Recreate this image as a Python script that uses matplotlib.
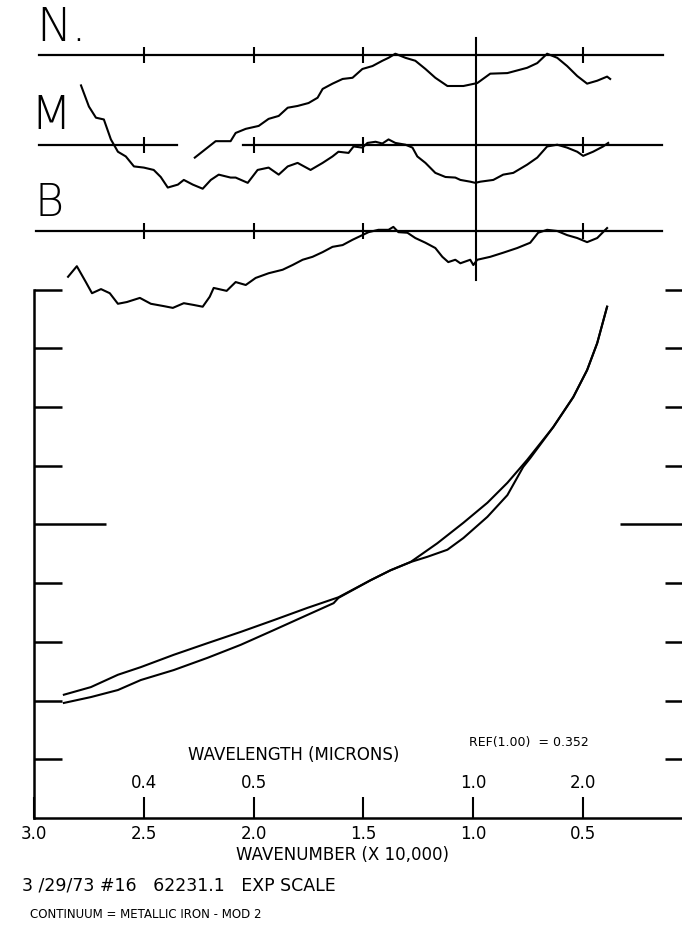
import matplotlib.pyplot as plt

# continuum fit, two passes: wavenumber (x 10,000) vs relative reflectance
wn_upper = [2.864, 2.741, 2.618, 2.514, 2.364, 2.209, 2.059, 1.909, 1.755, 1.614,
            1.468, 1.377, 1.286, 1.164, 1.045, 0.936, 0.845, 0.755, 0.636, 0.545,
            0.482, 0.436, 0.391]
refl_upper = [0.710, 0.723, 0.744, 0.757, 0.778, 0.798, 0.817, 0.837, 0.858, 0.876,
              0.905, 0.922, 0.936, 0.968, 1.003, 1.037, 1.071, 1.110, 1.166, 1.217,
              1.263, 1.309, 1.371]
wn_lower = [2.864, 2.741, 2.618, 2.514, 2.364, 2.209, 2.059, 1.909, 1.755, 1.636,
            1.614, 1.468, 1.377, 1.286, 1.209, 1.118, 1.045, 0.936, 0.845, 0.773,
            0.741, 0.636, 0.545, 0.482, 0.436, 0.391]
refl_lower = [0.696, 0.706, 0.718, 0.735, 0.752, 0.773, 0.795, 0.820, 0.846, 0.866,
              0.875, 0.905, 0.922, 0.936, 0.945, 0.957, 0.977, 1.013, 1.050, 1.098,
              1.113, 1.166, 1.217, 1.263, 1.309, 1.371]

# residual traces (offset from their own baselines)
wn_n = [2.268, 2.173, 2.105, 2.082, 2.036, 1.977, 1.932, 1.886, 1.845, 1.800,
        1.750, 1.709, 1.686, 1.641, 1.595, 1.550, 1.505, 1.459, 1.414, 1.386,
        1.355, 1.309, 1.264, 1.218, 1.173, 1.118, 1.082, 1.045, 0.982, 0.923,
        0.845, 0.755, 0.709, 0.664, 0.618, 0.573, 0.527, 0.482, 0.436, 0.391, 0.377]
res_n = [-0.175, -0.147, -0.147, -0.133, -0.126, -0.121, -0.109, -0.104, -0.090, -0.087,
         -0.082, -0.073, -0.058, -0.049, -0.041, -0.039, -0.024, -0.019, -0.010, -0.005,
         0.002, -0.005, -0.010, -0.024, -0.039, -0.053, -0.053, -0.053, -0.048, -0.032,
         -0.031, -0.022, -0.014, 0.002, -0.005, -0.019, -0.036, -0.049, -0.044, -0.037, -0.041]

wn_m = [2.786, 2.750, 2.718, 2.682, 2.650, 2.618, 2.582, 2.545, 2.500, 2.455,
        2.423, 2.391, 2.345, 2.318, 2.277, 2.232, 2.195, 2.159, 2.105, 2.082,
        2.027, 1.982, 1.932, 1.886, 1.845, 1.800, 1.741, 1.686, 1.641, 1.614,
        1.568, 1.545, 1.505, 1.482, 1.445, 1.414, 1.386, 1.355, 1.309, 1.277,
        1.255, 1.218, 1.173, 1.127, 1.082, 1.059, 1.014, 0.991, 0.968, 0.909,
        0.864, 0.818, 0.755, 0.709, 0.664, 0.618, 0.573, 0.527, 0.500, 0.455,
        0.409, 0.386]
res_m = [0.101, 0.065, 0.046, 0.043, 0.009, -0.012, -0.020, -0.037, -0.039, -0.043,
         -0.055, -0.073, -0.068, -0.060, -0.068, -0.075, -0.060, -0.051, -0.056, -0.056,
         -0.065, -0.043, -0.039, -0.051, -0.037, -0.031, -0.043, -0.031, -0.020, -0.012,
         -0.014, -0.003, -0.005, 0.003, 0.005, 0.002, 0.009, 0.003, 0.000, -0.005,
         -0.020, -0.031, -0.048, -0.055, -0.056, -0.060, -0.063, -0.065, -0.063, -0.060,
         -0.051, -0.048, -0.034, -0.022, -0.003, 0.000, -0.005, -0.012, -0.019, -0.012,
         -0.003, 0.003]

wn_b = [2.845, 2.805, 2.764, 2.736, 2.695, 2.655, 2.618, 2.577, 2.518, 2.468,
        2.409, 2.368, 2.318, 2.273, 2.232, 2.200, 2.182, 2.123, 2.082, 2.036,
        1.991, 1.932, 1.868, 1.823, 1.777, 1.732, 1.686, 1.641, 1.595, 1.550,
        1.505, 1.477, 1.432, 1.386, 1.364, 1.341, 1.300, 1.264, 1.218, 1.173,
        1.141, 1.114, 1.082, 1.059, 1.014, 1.000, 0.982, 0.923, 0.864, 0.800,
        0.741, 0.705, 0.664, 0.618, 0.573, 0.527, 0.482, 0.436, 0.391]
res_b = [-0.078, -0.060, -0.087, -0.106, -0.099, -0.106, -0.124, -0.121, -0.114, -0.124,
         -0.128, -0.131, -0.123, -0.126, -0.129, -0.112, -0.097, -0.102, -0.087, -0.092,
         -0.080, -0.072, -0.066, -0.058, -0.049, -0.044, -0.036, -0.027, -0.024, -0.015,
         -0.007, -0.002, 0.002, 0.002, 0.007, -0.002, -0.003, -0.012, -0.020, -0.029,
         -0.044, -0.053, -0.049, -0.055, -0.049, -0.058, -0.049, -0.044, -0.037, -0.029,
         -0.020, -0.003, 0.002, 0.000, -0.007, -0.012, -0.019, -0.012, 0.005]

base_n, base_m, base_b = 1.80, 1.647, 1.50

wn_ticks = [3.0, 2.5, 2.0, 1.5, 1.0, 0.5]
wn_labels = ['3.0', '2.5', '2.0', '1.5', '1.0', '0.5']
wl_pos = [2.5, 2.0, 1.0, 0.5]
wl_labels = ['0.4', '0.5', '1.0', '2.0']
refl_ticks = [0.6, 0.7, 0.8, 0.9, 1.1, 1.2, 1.3, 1.4]

plt.rcParams['font.family'] = ['DejaVu Sans']
W, H = 682, 925
fig = plt.figure(figsize=(W / 100, H / 100), dpi=100)
ax = fig.add_axes([34 / W, 1 - 818 / H, 1 - 34 / W, 818 / H])
ax.set_xlim(2.995, 0.05)
ax.set_ylim(0.5, 1.8935)

ax.spines['top'].set_visible(False)
ax.spines['right'].set_visible(False)
ax.spines['left'].set_bounds(0.5, 1.4)
for s in ('left', 'bottom'):
    ax.spines[s].set_linewidth(1.8)

ax.set_yticks(refl_ticks)
ax.set_yticks([1.0], minor=True)
ax.tick_params(axis='y', which='major', direction='in', length=20, width=1.8, labelleft=False)
ax.tick_params(axis='y', which='minor', direction='in', length=52, width=1.8, labelleft=False)
ax.set_xticks(wn_ticks)
ax.set_xticklabels(wn_labels)
ax.tick_params(axis='x', direction='in', length=15, width=1.5, pad=5, labelsize=12)

# right-hand ticks, no spine
ax2 = ax.twinx()
ax2.set_ylim(ax.get_ylim())
for s in ax2.spines.values():
    s.set_visible(False)
ax2.set_yticks(refl_ticks)
ax2.set_yticks([1.0], minor=True)
ax2.tick_params(axis='y', which='major', direction='in', length=12, width=1.8, labelright=False)
ax2.tick_params(axis='y', which='minor', direction='in', length=45, width=1.8, labelright=False)

# continuum curves
ax.plot(wn_upper, refl_upper, color='k', lw=1.5)
ax.plot(wn_lower, refl_lower, color='k', lw=1.5)

# residual strips
ax.plot([2.977, 0.136], [base_n, base_n], color='k', lw=1.6)
ax.plot([2.977, 2.35], [base_m, base_m], color='k', lw=1.6)
ax.plot([2.05, 0.14], [base_m, base_m], color='k', lw=1.6)
ax.plot([2.99, 0.14], [base_b, base_b], color='k', lw=1.6)
for base in (base_n, base_m, base_b):
    ax.plot([2.5, 2.0, 1.5, 0.5], [base] * 4, ls='none', marker='|', ms=12,
            mew=1.5, color='k')
ax.plot([0.99, 0.99], [1.4165, 1.829], color='k', lw=1.5)

ax.plot(wn_n, [base_n + v for v in res_n], color='k', lw=1.5)
ax.plot(wn_m, [base_m + v for v in res_m], color='k', lw=1.5)
ax.plot(wn_b, [base_b + v for v in res_b], color='k', lw=1.5)

for x, lab in zip(wl_pos, wl_labels):
    ax.text(x, 0.56, lab, ha='center', va='center', fontsize=12)
ax.text(1.82, 0.607, 'WAVELENGTH (MICRONS)', ha='center', va='center', fontsize=12)
ax.text(1.02, 0.629, 'REF(1.00)  = 0.352', ha='left', va='center', fontsize=9)

fig.text(342 / W, 1 - 855 / H, 'WAVENUMBER (X 10,000)', ha='center', va='center', fontsize=12)
fig.text(22 / W, 1 - 885 / H, '3 /29/73 #16   62231.1   EXP SCALE', ha='left', va='center', fontsize=12.5)
fig.text(30 / W, 1 - 914 / H, 'CONTINUUM = METALLIC IRON - MOD 2', ha='left', va='center', fontsize=8.5)

fig.text(36 / W, 1 - 28 / H, 'N.', ha='left', va='center', fontsize=34, fontweight='light')
fig.text(30 / W, 1 - 116 / H, 'M', ha='left', va='center', fontsize=34, fontweight='light')
fig.text(35 / W, 1 - 204 / H, 'B', ha='left', va='center', fontsize=32, fontweight='light')

fig.savefig('out.png', dpi=100)
